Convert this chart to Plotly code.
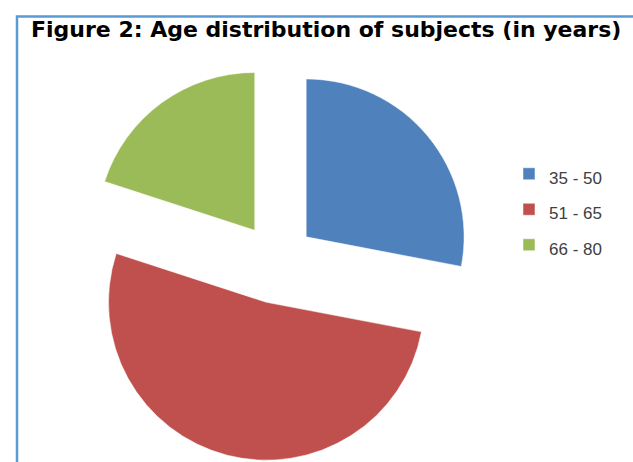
import plotly.graph_objects as go

# Age groups and share of subjects (%)
age_groups = ["35 - 50", "51 - 65", "66 - 80"]
subjects_pct = [28, 52, 20]
slice_colors = ["#4F81BD", "#C0504D", "#9BBB59"]
slice_pull = [0.24, 0.27, 0.24]

W, H = 633, 462

fig = go.Figure(
    go.Pie(
        labels=[f'<span style="font-size:17px">{g}</span>' for g in age_groups],
        values=subjects_pct,
        sort=False,
        direction="clockwise",
        rotation=0,
        pull=slice_pull,
        textinfo="none",
        hoverinfo="label+percent",
        marker=dict(colors=slice_colors, line=dict(color="white", width=0.5)),
        domain=dict(x=[76.5 / W, 477.5 / W], y=[1 - 461.5 / H, 1 - 60.5 / H]),
    )
)

fig.update_layout(
    width=W,
    height=H,
    margin=dict(l=0, r=0, t=0, b=0),
    paper_bgcolor="white",
    plot_bgcolor="white",
    showlegend=True,
    legend=dict(
        x=509 / W,
        xanchor="left",
        y=1 - 151 / H,
        yanchor="top",
        font=dict(family="Liberation Sans", size=25, color="#404040"),
        bgcolor="rgba(0,0,0,0)",
    ),
    shapes=[
        # chart frame (left and top edges fall inside the page)
        dict(
            type="rect",
            xref="paper",
            yref="paper",
            x0=17 / W,
            x1=1.05,
            y0=-0.05,
            y1=1 - 16.5 / H,
            line=dict(color="#5B9BD5", width=2.5),
            fillcolor="rgba(0,0,0,0)",
        )
    ],
    annotations=[
        dict(
            text="<b>Figure 2: Age distribution of subjects (in years)</b>",
            xref="paper",
            yref="paper",
            x=29 / W,
            xanchor="left",
            y=1 - 29 / H,
            yanchor="middle",
            showarrow=False,
            font=dict(family="DejaVu Sans", size=22, color="black"),
        )
    ],
)

fig.write_html("out.html")
